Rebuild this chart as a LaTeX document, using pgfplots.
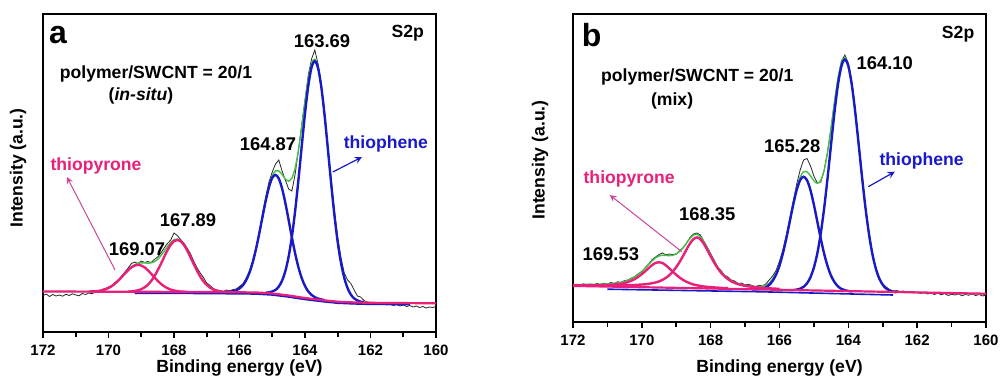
\documentclass[border=0pt]{standalone}
\usepackage{fontspec}
\setmainfont{Liberation Sans}
\usepackage{pgfplots}
\pgfplotsset{compat=1.18}
\definecolor{cblue}{RGB}{25,25,200}
\definecolor{cpink}{RGB}{232,32,122}
\definecolor{cgreen}{RGB}{70,190,70}
\definecolor{parrow}{RGB}{200,70,150}
\definecolor{cdata}{RGB}{40,40,40}
\pgfplotsset{
 xpsaxis/.style={
  scale only axis, anchor=south west, x dir=reverse,
  xmin=160, xmax=172, ymin=0,
  xtick={160,162,...,172}, minor xtick={161,163,...,171},
  ytick=\empty, xtick pos=bottom, tick align=outside,
  major tick length=3pt, minor tick length=2.5pt,
  axis line style={line width=1pt},
  every tick/.append style={black, line width=0.8pt},
  /pgf/number format/assume math mode=true,
  xticklabel style={font=\bfseries\fontsize{7.5}{9}\selectfont},
  clip=false,
 },
 datal/.style={cdata, line width=0.4pt},
 envl/.style={cgreen, line width=0.7pt},
 bcomp/.style={cblue, line width=1.2pt, smooth},
 pcomp/.style={cpink, line width=1.2pt, smooth},
 pbase/.style={cpink, line width=1.1pt},
}
\newcommand{\lab}{\bfseries\fontsize{8.8}{10}\selectfont}
\newcommand{\numf}{\bfseries\fontsize{9.2}{11}\selectfont}
\begin{document}
\begin{tikzpicture}
\useasboundingbox (0,0) rectangle (500pt,190.5pt);
% ---------------- panel a ----------------
\begin{axis}[xpsaxis, at={(21.5pt,24.5pt)}, width=196.5pt, height=159pt, ymax=318]
\addplot[datal] coordinates {(172.0,36.5) (171.9,38.0) (171.8,35.5) (171.7,37.5) (171.6,36.0) (171.5,37.0) (171.4,35.8) (171.3,37.8) (171.2,36.5) (171.1,38.2) (171.0,37.0) (170.9,36.2) (170.8,38.5) (170.7,37.5) (170.6,39.0) (170.5,38.2) (170.4,40.5) (170.3,40.0) (170.2,42.5) (170.1,43.5) (170.0,45.0) (169.9,46.5) (169.8,49.5) (169.7,52.0) (169.6,56.0) (169.5,60.0) (169.4,64.0) (169.3,68.5) (169.2,70.0) (169.1,68.5) (169.0,71.0) (168.9,69.5) (168.8,70.5) (168.7,69.5) (168.6,72.5) (168.5,75.0) (168.4,79.0) (168.3,84.0) (168.2,88.5) (168.1,92.0) (168.0,99.0) (167.9,96.5) (167.8,92.5) (167.7,89.0) (167.6,84.0) (167.5,78.5) (167.4,71.0) (167.3,64.5) (167.2,59.0) (167.1,54.5) (167.0,49.0) (166.9,46.5) (166.8,43.5) (166.7,42.0) (166.6,41.5) (166.5,40.5) (166.4,42.0) (166.3,41.0) (166.2,42.5) (166.1,43.0) (166.0,45.5) (165.9,48.0) (165.8,53.5) (165.7,60.5) (165.6,71.0) (165.5,84.0) (165.4,99.0) (165.3,118.0) (165.2,135.0) (165.1,150.0) (165.0,160.0) (164.9,168.0) (164.8,172.0) (164.7,161.0) (164.6,152.0) (164.5,143.0) (164.4,141.0) (164.3,158.0) (164.2,182.0) (164.1,207.0) (164.0,232.0) (163.9,257.0) (163.8,273.0) (163.7,282.0) (163.6,268.0) (163.5,247.0) (163.4,219.0) (163.3,185.0) (163.2,152.0) (163.1,121.0) (163.0,94.0) (162.9,74.0) (162.8,59.0) (162.7,52.0) (162.6,48.5) (162.5,42.0) (162.4,36.0) (162.3,35.0) (162.2,31.5) (162.1,30.0) (162.0,29.5) (161.9,28.0) (161.8,29.0) (161.7,27.5) (161.6,28.5) (161.5,27.0) (161.4,28.0) (161.3,26.5) (161.2,27.5) (161.1,26.0) (161.0,27.0) (160.9,25.5) (160.8,26.5) (160.7,25.0) (160.6,26.0) (160.5,24.5) (160.4,25.5) (160.3,24.0) (160.2,25.0) (160.1,24.5) (160.0,25.5)};
\addplot[envl, smooth] coordinates {(160.0,28.7) (161.0,29.0) (162.0,29.3) (162.1,29.5) (162.2,29.8) (162.3,30.3) (162.4,31.5) (162.5,33.6) (162.6,37.4) (162.7,43.9) (162.8,54.0) (162.9,69.0) (163.0,89.7) (163.1,116.4) (163.2,148.2) (163.3,182.6) (163.4,216.3) (163.5,245.0) (163.6,264.8) (163.7,272.8) (163.8,268.5) (163.9,253.1) (164.0,230.4) (164.1,205.1) (164.2,181.9) (164.3,164.2) (164.4,154.0) (164.5,150.9) (164.6,153.1) (164.7,157.5) (164.8,161.1) (164.9,161.1) (165.0,156.2) (165.1,145.8) (165.2,131.5) (165.3,114.9) (165.4,98.0) (165.5,82.4) (165.6,69.2) (165.7,59.0) (165.8,51.6) (165.9,46.6) (166.0,43.6) (166.1,41.7) (166.2,40.7) (166.3,40.3) (166.4,40.2) (166.5,40.3) (166.6,40.7) (166.7,41.4) (166.8,42.5) (166.9,44.4) (167.0,47.0) (167.1,50.7) (167.2,55.5) (167.3,61.4) (167.4,68.0) (167.5,75.1) (167.6,81.8) (167.7,87.4) (167.8,91.2) (167.9,92.9) (168.0,92.2) (168.1,89.5) (168.2,85.4) (168.3,80.7) (168.4,76.2) (168.5,72.7) (168.6,70.3) (168.7,69.1) (168.8,68.8) (168.9,69.1) (169.0,69.1) (169.1,68.7) (169.2,67.3) (169.3,65.1) (169.4,62.0) (169.5,58.6) (169.6,54.9) (169.7,51.4) (169.8,48.4) (169.9,45.9) (170.0,44.0) (170.1,42.6) (170.2,41.7) (170.3,41.1) (170.4,40.7) (170.5,40.6) (170.6,40.5) (172.0,40.5)};
\addplot[cblue, line width=0.9pt] coordinates {(169.2,38.9) (167.0,38.6) (165.5,38.1) (165.0,37.1) (164.5,35.1) (164.0,32.6) (163.5,30.6) (163.0,28.9) (162.5,28.2) (162.0,27.8) (160.8,27.5)};
\addplot[bcomp] coordinates {(162.2,29.8) (162.3,30.3) (162.4,31.5) (162.5,33.6) (162.6,37.4) (162.7,43.9) (162.8,54.0) (162.9,69.0) (163.0,89.7) (163.1,116.4) (163.2,148.2) (163.3,182.5) (163.4,216.1) (163.5,244.5) (163.6,263.8) (163.7,270.8) (163.8,264.6) (163.9,246.1) (164.0,218.4) (164.1,185.7) (164.2,152.2) (164.3,121.3) (164.4,95.4) (164.5,75.3) (164.6,60.9) (164.7,51.3) (164.8,45.4) (164.9,42.1) (165.0,40.5) (165.1,39.6) (165.2,39.3)};
\addplot[bcomp] coordinates {(163.4,31.9) (163.5,32.5) (163.6,33.4) (163.7,34.8) (163.8,37.1) (163.9,40.6) (164.0,46.0) (164.1,53.9) (164.2,64.7) (164.3,78.4) (164.4,94.6) (164.5,112.1) (164.6,129.1) (164.7,143.5) (164.8,153.4) (164.9,157.1) (165.0,154.2) (165.1,144.9) (165.2,131.1) (165.3,114.7) (165.4,97.9) (165.5,82.4) (165.6,69.2) (165.7,59.0) (165.8,51.6) (165.9,46.6) (166.0,43.6) (166.1,41.7) (166.2,40.7) (166.3,40.3) (166.4,40.0)};
\addplot[pcomp] coordinates {(166.4,40.0) (166.5,40.2) (166.6,40.7) (166.7,41.4) (166.8,42.5) (166.9,44.4) (167.0,47.0) (167.1,50.7) (167.2,55.5) (167.3,61.4) (167.4,68.0) (167.5,75.1) (167.6,81.7) (167.7,87.2) (167.8,90.8) (167.9,92.1) (168.0,90.8) (168.1,87.2) (168.2,81.7) (168.3,75.1) (168.4,68.1) (168.5,61.6) (168.6,55.7) (168.7,50.9) (168.8,47.2) (168.9,44.6) (169.0,42.8) (169.1,41.7) (169.2,41.0) (169.3,40.6) (169.4,40.4)};
\addplot[pcomp] coordinates {(167.6,40.2) (167.7,40.3) (167.8,40.5) (167.9,40.9) (168.0,41.5) (168.1,42.4) (168.2,43.8) (168.3,45.7) (168.4,48.2) (168.5,51.3) (168.6,54.8) (168.7,58.4) (168.8,61.8) (168.9,64.7) (169.0,66.5) (169.1,67.2) (169.2,66.5) (169.3,64.7) (169.4,61.8) (169.5,58.5) (169.6,54.9) (169.7,51.4) (169.8,48.4) (169.9,45.9) (170.0,44.0) (170.1,42.6) (170.2,41.7) (170.3,41.1) (170.4,40.7) (170.5,40.6) (170.6,40.5)};
\addplot[pbase, smooth, tension=0.3] coordinates {(172,40.5) (167,40.0) (165.5,39.5) (165,38.5) (164.5,36.5) (164,34.0) (163.5,32.0) (163,30.3) (162.5,29.6) (162,29.2) (160,28.7)};
% labels
\node[anchor=base, font=\bfseries\fontsize{16}{18}\selectfont] at (axis cs:171.54,288.7) {a};
\node[anchor=base, font=\lab] at (axis cs:160.86,294.3) {S2p};
\node[anchor=base, font=\numf] at (axis cs:163.48,284.7) {163.69};
\node[anchor=base, font=\lab] at (axis cs:168.55,253.7) {polymer/SWCNT = 20/1};
\node[anchor=base, font=\lab] at (axis cs:169.01,232) {(\textit{in-situ})};
\node[anchor=base, font=\numf] at (axis cs:165.13,181.3) {164.87};
\node[anchor=base, font=\lab, text=cblue] at (axis cs:161.53,183.7) {thiophene};
\node[anchor=base, font=\lab, text=cpink] at (axis cs:170.38,162) {thiopyrone};
\node[anchor=base, font=\numf] at (axis cs:167.57,106) {167.89};
\node[anchor=base, font=\numf] at (axis cs:169.13,77) {169.07};
\draw[parrow, line width=0.5pt, -stealth] (axis cs:169.8,62) -- (axis cs:171.27,155);
\draw[cblue, line width=0.6pt, -stealth] (axis cs:163.15,160) -- (axis cs:162.26,175);
\node[font=\lab] at ([yshift=-18pt]rel axis cs:0.5,0) {Binding energy (eV)};
\node[font=\lab, rotate=90] at ([xshift=-12.5pt]rel axis cs:0,0.516) {Intensity (a.u.)};
\end{axis}
% ---------------- panel b ----------------
\begin{axis}[xpsaxis, at={(286.5pt,29.5pt)}, width=206.5pt, height=154pt, ymax=308]
\addplot[datal] coordinates {(160.0,27.0) (160.1,26.0) (160.2,27.5) (160.3,26.5) (160.4,28.0) (160.5,26.8) (160.6,27.5) (160.7,26.2) (160.8,28.2) (160.9,27.0) (161.0,27.8) (161.1,26.5) (161.2,28.5) (161.3,27.2) (161.4,28.8) (161.5,27.5) (161.6,29.0) (161.7,28.0) (161.8,29.5) (161.9,28.5) (162.0,30.0) (162.1,29.0) (162.2,30.5) (162.3,29.8) (162.4,31.0) (162.5,30.5) (162.6,31.5) (162.7,31.0) (162.8,32.5) (162.9,35.0) (163.0,38.0) (163.1,44.5) (163.2,54.0) (163.3,69.0) (163.4,89.5) (163.5,115.0) (163.6,146.0) (163.7,179.5) (163.8,212.0) (163.9,240.0) (164.0,259.0) (164.1,267.0) (164.2,261.0) (164.3,244.0) (164.4,221.0) (164.5,195.0) (164.6,171.0) (164.7,152.0) (164.8,140.0) (164.9,139.0) (165.0,146.0) (165.1,156.0) (165.2,163.5) (165.3,162.0) (165.4,152.0) (165.5,138.0) (165.6,121.0) (165.7,104.0) (165.8,87.0) (165.9,72.5) (166.0,61.0) (166.1,51.5) (166.2,46.0) (166.3,42.0) (166.4,38.0) (166.5,36.0) (166.6,36.8) (166.7,35.2) (166.8,36.5) (166.9,37.8) (167.0,37.0) (167.1,39.0) (167.2,38.5) (167.3,41.0) (167.4,42.0) (167.5,45.0) (167.6,47.0) (167.7,51.5) (167.8,55.0) (167.9,62.0) (168.0,68.5) (168.1,75.0) (168.2,81.0) (168.3,87.0) (168.4,89.0) (168.5,88.0) (168.6,84.5) (168.7,79.0) (168.8,74.0) (168.9,71.5) (169.0,68.0) (169.1,67.5) (169.2,68.0) (169.3,67.0) (169.4,69.0) (169.5,67.5) (169.6,65.0) (169.7,62.5) (169.8,58.0) (169.9,54.5) (170.0,50.0) (170.1,48.5) (170.2,45.5) (170.3,44.0) (170.4,42.0) (170.5,41.5) (170.6,39.5) (170.7,40.2) (170.8,38.5) (170.9,39.5) (171.0,38.0) (171.1,38.8) (171.2,37.5) (171.3,38.5) (171.4,37.2) (171.5,38.0) (171.6,37.0) (171.7,38.2) (171.8,36.8) (171.9,37.8) (172.0,37.0)};
\addplot[envl, smooth] coordinates {(160.0,28.0) (161.0,28.8) (162.0,29.5) (162.5,30.1) (162.6,30.4) (162.7,30.9) (162.8,32.0) (162.9,34.1) (163.0,37.8) (163.1,43.9) (163.2,53.8) (163.3,68.3) (163.4,88.5) (163.5,114.2) (163.6,144.9) (163.7,178.2) (163.8,210.6) (163.9,238.3) (164.0,257.1) (164.1,264.4) (164.2,259.2) (164.3,243.4) (164.4,220.3) (164.5,194.2) (164.6,170.4) (164.7,152.2) (164.8,141.8) (164.9,138.6) (165.0,141.3) (165.1,146.2) (165.2,150.0) (165.3,150.2) (165.4,144.8) (165.5,134.0) (165.6,119.0) (165.7,102.0) (165.8,85.2) (165.9,70.0) (166.0,58.1) (166.1,49.0) (166.2,42.9) (166.3,38.9) (166.4,36.8) (166.5,35.8) (166.6,35.5) (166.7,35.3) (166.8,35.8) (166.9,36.1) (167.0,36.7) (167.1,37.5) (167.2,38.4) (167.3,39.8) (167.4,41.4) (167.5,43.8) (167.6,46.8) (167.7,50.5) (167.8,55.2) (167.9,60.9) (168.0,67.3) (168.1,73.9) (168.2,80.4) (168.3,85.4) (168.4,87.7) (168.5,86.8) (168.6,83.6) (168.7,79.0) (168.8,74.4) (168.9,70.7) (169.0,68.1) (169.1,66.7) (169.2,66.3) (169.3,66.6) (169.4,66.8) (169.5,66.1) (169.6,64.2) (169.7,61.2) (169.8,57.6) (169.9,53.9) (170.0,50.7) (170.1,47.8) (170.2,45.2) (170.3,43.3) (170.4,41.8) (170.5,40.7) (170.6,39.7) (170.8,38.7) (171.0,38.2) (171.2,37.8) (171.5,37.6) (172.0,37.5)};
\addplot[cblue, line width=0.8pt] coordinates {(171.0,32.8) (166.5,30.2) (162.7,27.0)};
\addplot[bcomp] coordinates {(162.6,29.8) (162.7,30.3) (162.8,31.4) (162.9,33.5) (163.0,37.2) (163.1,43.3) (163.2,53.2) (163.3,67.7) (163.4,87.9) (163.5,113.6) (163.6,144.3) (163.7,177.6) (163.8,210.0) (163.9,237.4) (164.0,255.9) (164.1,262.5) (164.2,256.0) (164.3,237.7) (164.4,210.5) (164.5,178.1) (164.6,145.0) (164.7,114.5) (164.8,88.9) (164.9,68.8) (165.0,54.5) (165.1,44.8) (165.2,38.7) (165.3,35.2) (165.4,33.3) (165.5,32.4) (165.6,31.9)};
\addplot[bcomp] coordinates {(163.9,30.6) (164.0,31.0) (164.1,31.8) (164.2,33.1) (164.3,35.6) (164.4,39.8) (164.5,46.1) (164.6,55.5) (164.7,67.9) (164.8,83.2) (164.9,100.1) (165.0,117.1) (165.1,131.8) (165.2,141.7) (165.3,145.3) (165.4,141.9) (165.5,132.1) (165.6,117.5) (165.7,100.7) (165.8,83.9) (165.9,68.8) (166.0,56.5) (166.1,47.3) (166.2,41.1) (166.3,37.0) (166.4,34.7) (166.5,33.5) (166.6,32.9) (166.7,32.6) (166.8,32.5)};
\addplot[pcomp] coordinates {(166.0,33.1) (166.2,33.5) (166.4,33.9) (166.6,34.5) (166.8,35.2) (166.9,35.6) (167.0,36.1) (167.1,36.9) (167.2,37.8) (167.3,39.1) (167.4,40.6) (167.5,42.9) (167.6,45.8) (167.7,49.4) (167.8,54.0) (167.9,59.5) (168.0,65.7) (168.1,72.1) (168.2,78.3) (168.3,82.8) (168.4,84.6) (168.5,82.9) (168.6,78.6) (168.7,72.6) (168.8,66.2) (168.9,60.2) (169.0,54.9) (169.1,50.5) (169.2,46.9) (169.3,44.2) (169.4,42.1) (169.5,40.6) (169.6,39.5) (169.7,38.8) (169.8,38.2) (169.9,37.7) (170.0,37.5) (170.2,37.0) (170.4,36.8) (170.6,36.6) (170.8,36.6) (171.0,36.6)};
\addplot[pcomp] coordinates {(167.5,33.8) (167.7,34.1) (167.9,34.6) (168.0,34.9) (168.1,35.1) (168.2,35.5) (168.3,36.1) (168.4,36.7) (168.5,37.5) (168.6,38.7) (168.7,40.2) (168.8,42.0) (168.9,44.4) (169.0,47.2) (169.1,50.3) (169.2,53.5) (169.3,56.6) (169.4,59.0) (169.5,59.8) (169.6,59.1) (169.7,56.9) (169.8,54.0) (169.9,50.8) (170.0,47.9) (170.1,45.3) (170.2,43.0) (170.3,41.3) (170.4,40.0) (170.5,39.0) (170.6,38.2) (170.7,37.8) (170.8,37.4) (170.9,37.2) (171.0,37.0) (171.2,36.8) (171.4,36.7) (171.6,36.7) (172.0,36.7)};
\addplot[pbase] coordinates {(160,28.3) (172,36.1)};
% labels
\node[anchor=base, font=\bfseries\fontsize{16}{18}\selectfont] at (axis cs:171.46,275.3) {b};
\node[anchor=base, font=\lab] at (axis cs:160.81,283.7) {S2p};
\node[anchor=base, font=\numf] at (axis cs:162.94,252) {164.10};
\node[anchor=base, font=\lab] at (axis cs:168.39,240.3) {polymer/SWCNT = 20/1};
\node[anchor=base, font=\lab] at (axis cs:169.12,217) {(mix)};
\node[anchor=base, font=\numf] at (axis cs:165.63,169.3) {165.28};
\node[anchor=base, font=\lab, text=cblue] at (axis cs:161.87,157) {thiophene};
\node[anchor=base, font=\lab, text=cpink] at (axis cs:170.37,138.7) {thiopyrone};
\node[anchor=base, font=\numf] at (axis cs:168.10,102) {168.35};
\node[anchor=base, font=\numf] at (axis cs:170.9,61.3) {169.53};
\draw[parrow, line width=0.5pt, -stealth] (axis cs:168.84,70.3) -- (axis cs:170.93,127);
\draw[cblue, line width=0.6pt, -stealth] (axis cs:163.42,135.3) -- (axis cs:162.65,150.3);
\node[font=\lab] at ([yshift=-23pt]rel axis cs:0.5,0) {Binding energy (eV)};
\node[font=\lab, rotate=90] at ([xshift=-16.5pt]rel axis cs:0,0.526) {Intensity (a.u.)};
\end{axis}
\end{tikzpicture}
\end{document}
